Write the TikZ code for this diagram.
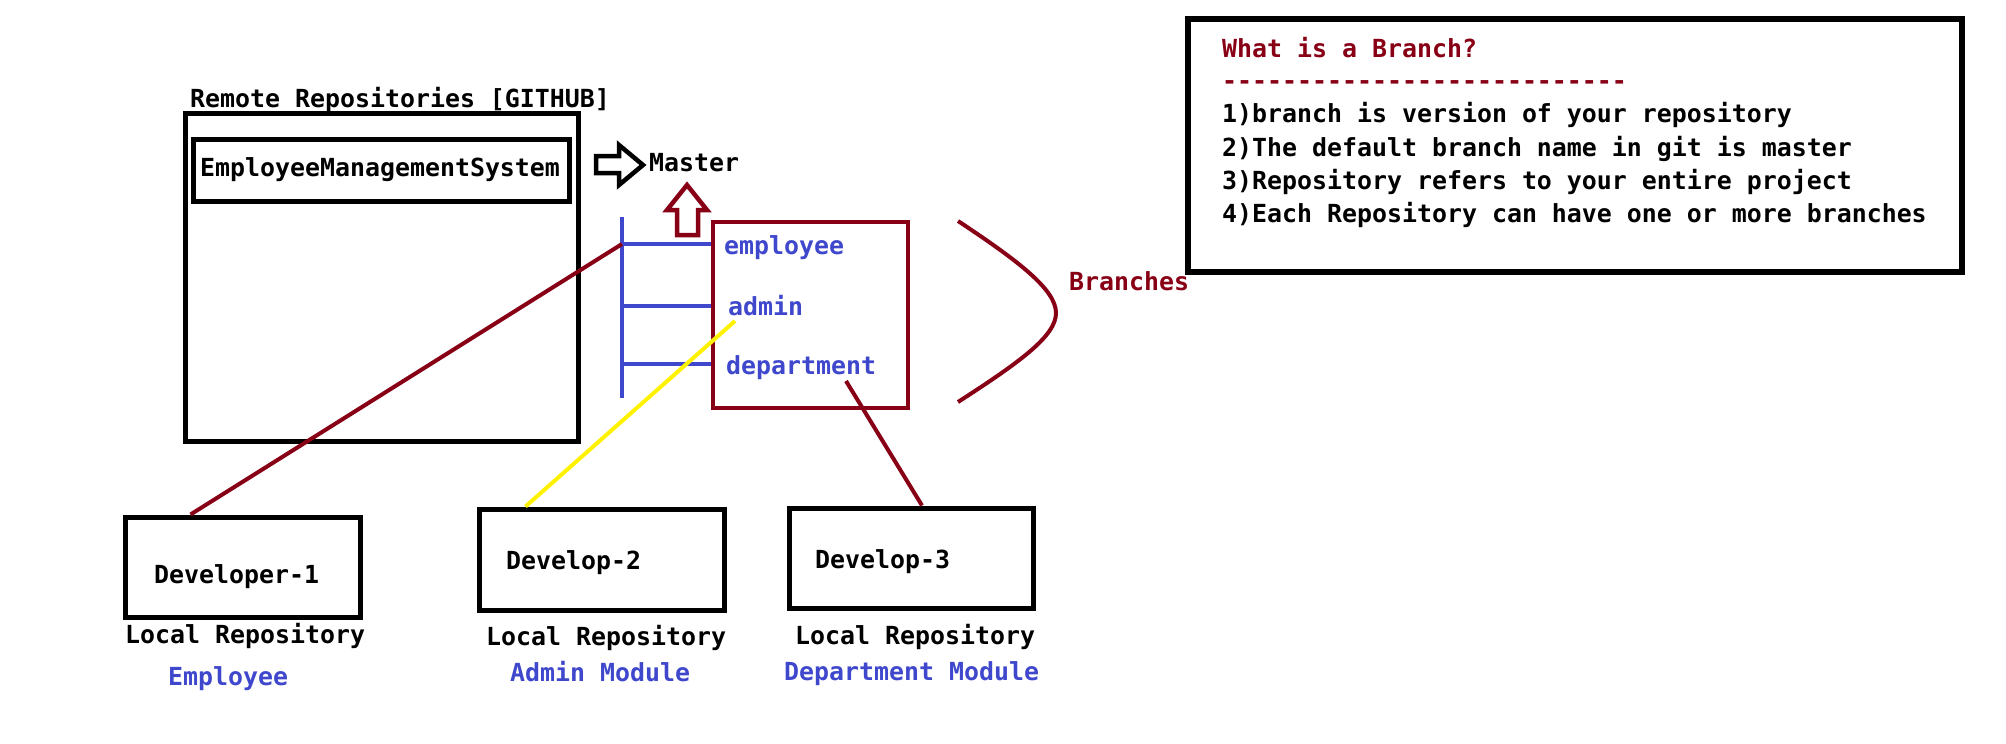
\documentclass[tikz,border=0pt]{standalone}
\usepackage{fontspec}
\setmonofont{DejaVu Sans Mono}
\usepackage{tikz}
\definecolor{gitred}{RGB}{136,0,21}
\definecolor{gitblue}{RGB}{63,72,204}
\definecolor{gityellow}{RGB}{255,242,0}

\begin{document}
\begin{tikzpicture}[x=1pt, y=-1pt,
        txt/.style={anchor=base west, inner sep=0pt, font=\fontsize{24.9}{30}\selectfont\ttfamily\bfseries},
        bluetxt/.style={txt, text=gitblue},
        redtxt/.style={txt, text=gitred},
        box/.style={draw, line width=5pt, inner sep=0pt},
        branch/.style={gitblue, line width=4.5pt},
        link/.style={gitred, line width=4pt}]
    \useasboundingbox (0,0) rectangle (2006,744);
        % remote repository
        \node [txt] (remotelbl) at (190,107) {Remote Repositories [GITHUB]};
        \node [box, minimum width=393pt, minimum height=328pt] (remote) at (381.5,277) {};
        \node [box, minimum width=376pt, minimum height=61.5pt] (ems) at (381,170.25) {};
        \node [txt] (emslbl) at (200,176) {EmployeeManagementSystem};
        % master
        \draw [line width=4.5pt] (596,156) -- (619,156) -- (619,145) -- (643,165) -- (619,185) -- (619,173) -- (596,173) -- cycle;
        \node [txt] (master) at (649,171) {Master};
        \draw [gitred, line width=4.5pt] (677,235) -- (677,210) -- (667,210) -- (687,185) -- (707,210) -- (698,210) -- (698,235) -- cycle;
        % branches
        \node [box, gitred, line width=4.5pt, minimum width=195pt, minimum height=186pt] (branchbox) at (810.5,315) {};
        \node [bluetxt] (emp) at (724,254) {employee};
        \node [bluetxt] (adm) at (728,315) {admin};
        \node [bluetxt] (dept) at (726,374) {department};
        \coordinate (trunktop) at (622,217);
        \coordinate (trunkbot) at (622,398);
        \coordinate (brEmp) at (622,244);
        \coordinate (brAdm) at (622,306);
        \coordinate (brDept) at (622,364);
        \draw [branch] (trunktop) -- (trunkbot);
        \draw [branch] (brEmp) -- (branchbox.west |- brEmp);
        \draw [branch] (brAdm) -- (branchbox.west |- brAdm);
        \draw [branch] (brDept) -- (branchbox.west |- brDept);
        \draw [link] (958,221) .. controls (1020,262) and (1056,290) .. (1056,313) .. controls (1056,336) and (1020,362) .. (958,402);
        \node [redtxt] (brlbl) at (1069,290) {Branches};
        % developers
        \node [box, minimum width=235pt, minimum height=100pt] (dev1) at (242.5,567) {};
        \node [txt] (dev1lbl) at (154,583) {Developer-1};
        \node [txt] (loc1) at (125,643) {Local Repository};
        \node [bluetxt] (mod1) at (168,685) {Employee};
        \node [box, minimum width=245pt, minimum height=101pt] (dev2) at (601.5,559.5) {};
        \node [txt] (dev2lbl) at (506,569) {Develop-2};
        \node [txt] (loc2) at (486,645) {Local Repository};
        \node [bluetxt] (mod2) at (510,681) {Admin Module};
        \node [box, minimum width=244pt, minimum height=100pt] (dev3) at (911,558) {};
        \node [txt] (dev3lbl) at (815,568) {Develop-3};
        \node [txt] (loc3) at (795,644) {Local Repository};
        \node [bluetxt] (mod3) at (784,680) {Department Module};
        \draw [link] ([xshift=68pt]dev1.north west) -- (brEmp);
        \draw [gityellow, line width=4pt] ([xshift=49pt]dev2.north west) -- ([shift={(7pt,-6pt)}]adm.base west);
        \draw [link] ([shift={(120pt,-7pt)}]dept.base west) -- ([xshift=11pt]dev3.north);
        % what is a branch
        \node [box, line width=5.5pt, minimum width=774pt, minimum height=253pt] (info) at (1575,145.5) {};
        \node [redtxt] (infotitle) at (1222,57) {What is a Branch?};
        \node [redtxt] (infoline) at (1222,89) {---------------------------};
        \node [txt] (pt1) at (1222,122) {1)branch is version of your repository};
        \node [txt] (pt2) at (1222,156) {2)The default branch name in git is master};
        \node [txt] (pt3) at (1222,189) {3)Repository refers to your entire project};
        \node [txt] (pt4) at (1222,222) {4)Each Repository can have one or more branches};
    \end{tikzpicture}
\end{document}
